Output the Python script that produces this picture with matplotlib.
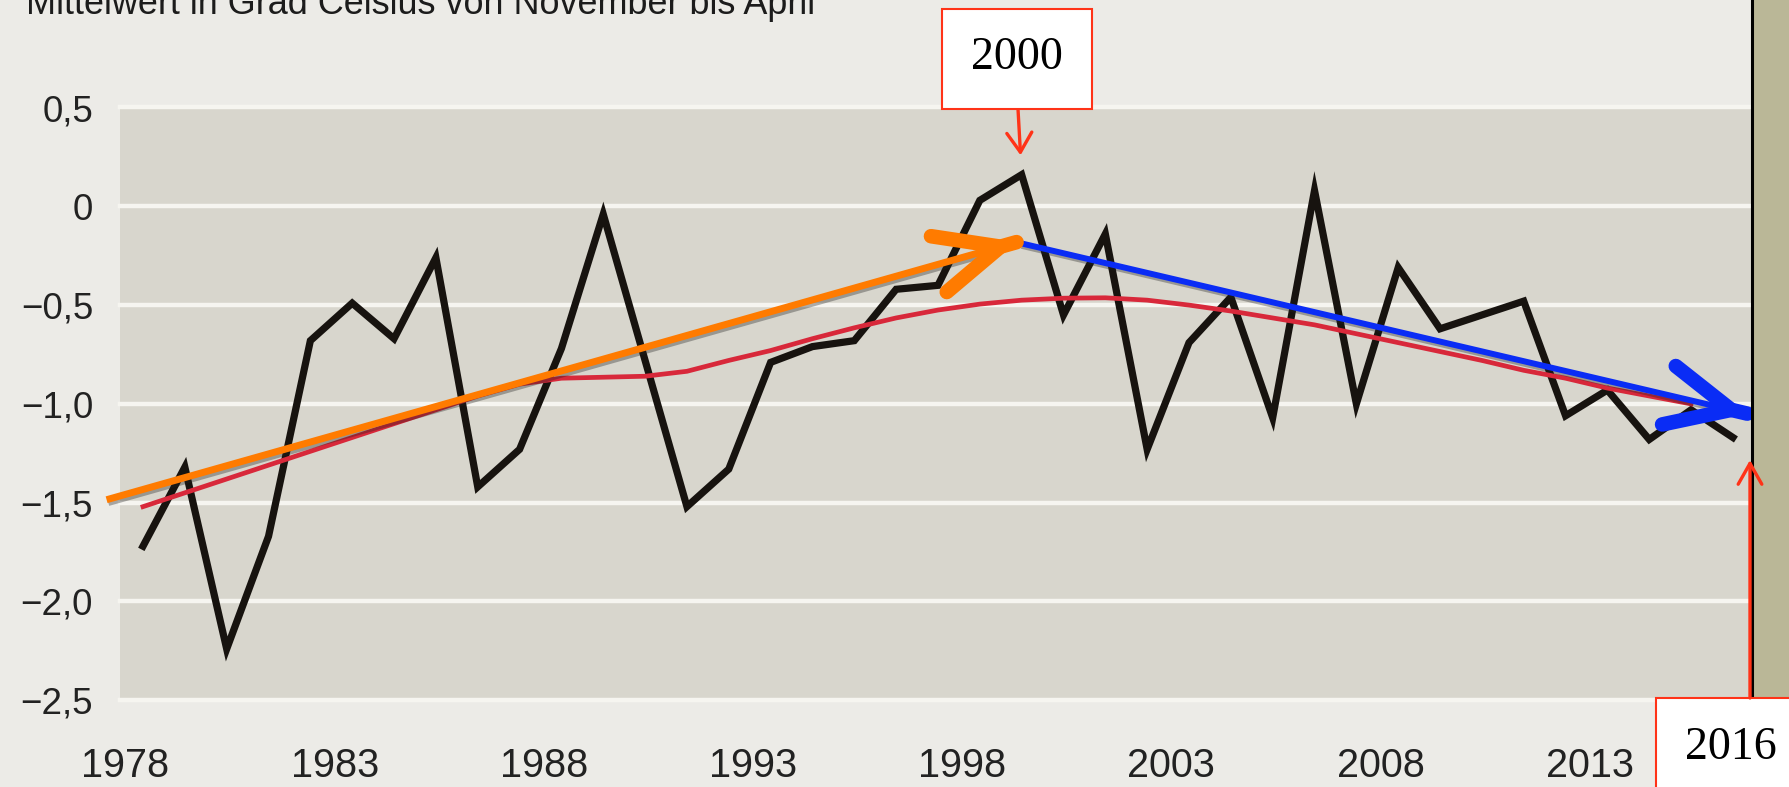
import matplotlib
matplotlib.use('Agg')
import matplotlib.pyplot as plt
from matplotlib import font_manager as fm, transforms
from matplotlib.patches import Rectangle, FancyArrowPatch
from matplotlib.lines import Line2D
import matplotlib.patheffects as pe

# ---------------- data ----------------
years = list(range(1978, 2017))
temps = [-1.72, -1.32, -2.24, -1.67, -0.68, -0.49, -0.67, -0.26, -1.42, -1.23,
         -0.72, -0.04, -0.78, -1.52, -1.33, -0.79, -0.71, -0.68, -0.42, -0.40,
         0.03, 0.16, -0.55, -0.14, -1.23, -0.69, -0.46, -1.07, 0.08, -1.00,
         -0.31, -0.62, -0.55, -0.48, -1.06, -0.93, -1.18, -1.03, -1.17]

smooth_years = list(range(1978, 2016))
smooth_vals = [-1.52, -1.45, -1.38, -1.31, -1.24, -1.17, -1.10, -1.03, -0.96, -0.90,
               -0.87, -0.865, -0.86, -0.835, -0.78, -0.73, -0.67, -0.615, -0.565, -0.525,
               -0.495, -0.475, -0.465, -0.463, -0.475, -0.50, -0.53, -0.565, -0.60, -0.645,
               -0.69, -0.735, -0.78, -0.83, -0.87, -0.92, -0.96, -1.00]

trend_up_x = [1977.13, 1998.90]
trend_up_y = [-1.485, -0.18]
trend_down_x = [1998.96, 2016.36]
trend_down_y = [-0.186, -1.05]

ytick_vals = [0.5, 0.0, -0.5, -1.0, -1.5, -2.0, -2.5]
ytick_labels = ['0,5', '0', '\u22120,5', '\u22121,0', '\u22121,5', '\u22122,0', '\u22122,5']
xtick_years = [1978, 1983, 1988, 1993, 1998, 2003, 2008, 2013]
title = 'Mittelwert in Grad Celsius von November bis April'
peak_label = '2000'
end_label = '2016'

# ---------------- fonts ----------------
def has_font(name):
    try:
        fm.findfont(fm.FontProperties(family=name), fallback_to_default=False)
        return True
    except Exception:
        return False

SANS = ['Liberation Sans', 'DejaVu Sans']
NARROW_OK = has_font('Liberation Sans Narrow')
NARROW = (['Liberation Sans Narrow'] if NARROW_OK else []) + SANS
SERIF = ['Liberation Serif', 'DejaVu Serif']

# ---------------- figure ----------------
W, H = 1789, 787
fig = plt.figure(figsize=(W / 100, H / 100), dpi=100)
fig.patch.set_facecolor('#ECEBE7')

def fx(px):
    return px / W

def fy(py_top):
    return 1 - py_top / H

ax = fig.add_axes([fx(120), fy(700.3), fx(1752) - fx(120), fy(107.5) - fy(700.3)])
ax.set_facecolor('#D8D6CD')
ax.set_xlim(1977.45, 2016.456)
ax.set_ylim(-2.5, 0.5)
for s in ax.spines.values():
    s.set_visible(False)
ax.set_xticks([])
ax.set_yticks([])

for v in ytick_vals:
    ax.axhline(v, color='#F6F5F0', lw=3.2, clip_on=False, zorder=1)

# main series
ax.plot(years, temps, color='#17130F', lw=5.2, solid_joinstyle='miter', zorder=3)
ax.plot(smooth_years, smooth_vals, color='#D8283A', lw=3.4, zorder=4)

shadow = [pe.SimpleLineShadow(offset=(1.2, -2.0), shadow_color='#222222', alpha=0.35), pe.Normal()]

def trend_arrow(xs, ys, color, shaft_lw, head_lw, head_len_px, head_half_px):
    ax.plot(xs, ys, color=color, lw=shaft_lw, solid_capstyle='butt', clip_on=False,
            zorder=5, path_effects=shadow)
    x0, x1 = xs
    y0, y1 = ys
    start = (x1 - 0.001 * (x1 - x0), y1 - 0.001 * (y1 - y0))
    head = FancyArrowPatch(start, (x1, y1),
                           arrowstyle='->,head_length=%.2f,head_width=%.2f'
                           % (head_len_px * 0.72, head_half_px * 0.72),
                           mutation_scale=1, lw=head_lw, color=color,
                           capstyle='round', joinstyle='round',
                           shrinkA=0, shrinkB=0, clip_on=False, zorder=6)
    ax.add_patch(head)

trend_arrow(trend_up_x, trend_up_y, '#FF7B00', 5.0, 10.5, 64, 29)
trend_arrow(trend_down_x, trend_down_y, '#0A2CF5', 4.3, 10.5, 64, 30)

# ---------------- tick labels ----------------
ylab_tr = transforms.blended_transform_factory(fig.transFigure, ax.transData)
for v, lab in zip(ytick_vals, ytick_labels):
    ax.text(fx(93), v, lab, transform=ylab_tr, ha='right', va='center_baseline',
            fontsize=26.5, family=SANS, color='#222222', clip_on=False)

xlab_tr = transforms.blended_transform_factory(ax.transData, fig.transFigure)
xfs = 31 if NARROW_OK else 28.5
for yr in xtick_years:
    ax.text(yr - 0.42, fy(777), str(yr), transform=xlab_tr, ha='center', va='baseline',
            fontsize=xfs, family=NARROW, color='#222222', clip_on=False)

# ---------------- title (cut off at top) ----------------
t = fig.text(fx(26), fy(14), title, ha='left', va='baseline', fontsize=28,
             family=NARROW, color='#1C1C1C')
fig.canvas.draw()
wpx = t.get_window_extent(fig.canvas.get_renderer()).width
if wpx > 0:
    t.set_fontsize(28 * 789.0 / wpx)

# ---------------- right side strip ----------------
fig.add_artist(Rectangle((fx(1753.5), 0), 1 - fx(1753.5), 1, transform=fig.transFigure,
                         facecolor='#BAB797', edgecolor='none', zorder=1))
fig.add_artist(Line2D([fx(1752), fx(1752)], [fy(698), 1.0], transform=fig.transFigure,
                      color='black', lw=2.2, zorder=2))

RED = '#FF3318'

# ---------------- "2000" annotation ----------------
fig.add_artist(Rectangle((fx(942), fy(109)), fx(1092) - fx(942), fy(9) - fy(109),
                         transform=fig.transFigure, facecolor='white', edgecolor=RED,
                         lw=1.5, zorder=7))
fig.text(fx(1017), fy(58), peak_label, ha='center', va='center', fontsize=33,
         family=SERIF, color='black', zorder=8)
i_peak = max(range(len(temps)), key=lambda i: temps[i])
ax.annotate('', xy=(years[i_peak], temps[i_peak]), xycoords='data',
            xytext=(fx(1018), fy(109)), textcoords='figure fraction',
            arrowprops=dict(arrowstyle='->,head_length=14,head_width=9', mutation_scale=1,
                            color=RED, lw=2.4, shrinkA=0, shrinkB=14),
            annotation_clip=False, zorder=8)

# ---------------- "2016" annotation ----------------
fig.add_artist(Rectangle((fx(1656), fy(795)), fx(1800) - fx(1656), fy(698) - fy(795),
                         transform=fig.transFigure, facecolor='white', edgecolor=RED,
                         lw=1.5, zorder=7))
fig.text(fx(1731), fy(748), end_label, ha='center', va='center', fontsize=33,
         family=SERIF, color='black', zorder=8)
fig.add_artist(FancyArrowPatch((fx(1750), fy(698)), (fx(1750), fy(460)),
                               transform=fig.transFigure,
                               arrowstyle='->,head_length=15,head_width=8.5',
                               mutation_scale=1, color=RED, lw=2.4,
                               shrinkA=0, shrinkB=0, zorder=8))

fig.savefig('out.png', dpi=100, facecolor=fig.get_facecolor())
